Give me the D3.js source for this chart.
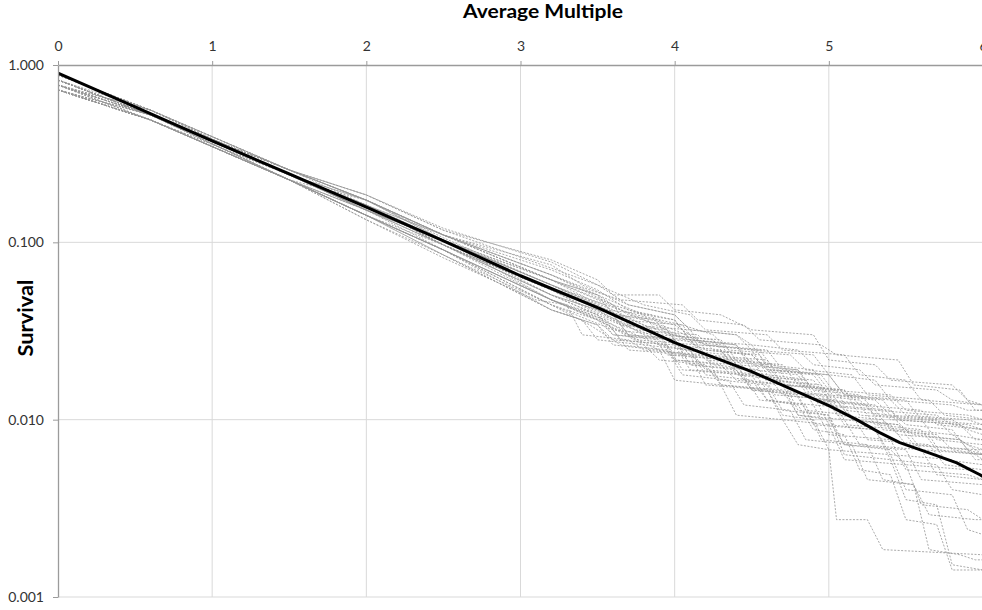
<!DOCTYPE html>
<html>
<head>
<meta charset="utf-8">
<script src="https://cdn.jsdelivr.net/npm/d3@7"></script>
<style>
  html, body { margin: 0; padding: 0; background: #fff; }
  svg { display: block; font-family: Lato, "Open Sans", sans-serif; }
</style>
</head>
<body>
<svg id="chart" width="982" height="610"></svg>
<script>
// Axis ticks
const xTicks = [0, 1, 2, 3, 4, 5, 6];
const yTicks = [1, 0.1, 0.01, 0.001];

// Average survival curve: [average multiple, survival]
const averageCurve = [
  [0, 0.901], [0.5, 0.580], [1, 0.373], [1.5, 0.243], [2, 0.158], [2.5, 0.102],
  [3, 0.0648], [3.5, 0.0428], [4, 0.0272], [4.5, 0.01864], [4.75, 0.01495],
  [5, 0.01199], [5.18, 0.0100], [5.33, 0.00845], [5.46, 0.00743], [5.65, 0.00650],
  [5.83, 0.00570], [5.98, 0.00489], [6, 0.00477]
];

// Individual simulated survival paths: [average multiple, survival]
const run01 = [[0,.823],[0.6,.523],[1.5,.256],[2,.185],[2.5,.117],[3.2,.0796],[3.5,.0614],[3.6,.0505],[3.9,.0505],[4.0,.0416],[4.3,.0390],[4.5,.0321],[4.9,.0301],[5.0,.0217],[5.3,.0204],[5.4,.0167],[5.8,.0157],[5.9,.0129],[6.0,.0121]];
const run02 = [[0,.771],[0.6,.523],[1.5,.240],[2,.173],[2.5,.110],[3.2,.0746],[3.4,.0575],[3.7,.0444],[4.0,.0390],[4.1,.0321],[4.4,.0301],[4.5,.0264],[4.8,.0247],[4.9,.0204],[5.2,.0191],[5.3,.0157],[5.7,.0147],[5.8,.0129],[6.0,.0121]];
const run03 = [[0,.723],[0.6,.490],[1.5,.240],[2,.152],[2.5,.103],[3.2,.0575],[3.5,.0444],[3.8,.0321],[4.0,.0301],[4.2,.0247],[4.5,.0232],[4.6,.0191],[4.9,.0179],[5.0,.0138],[5.3,.0129],[5.4,.0106],[5.8,.0100],[5.9,.00878],[6.0,.00823]];
const run04 = [[0,.823],[0.6,.523],[1.5,.225],[2,.142],[2.5,.0906],[3.2,.0474],[3.6,.0342],[3.9,.0264],[4.1,.0247],[4.2,.0191],[4.6,.0179],[4.7,.0138],[5.0,.0129],[5.1,.00937],[5.5,.00878],[5.6,.00677],[6.0,.00635]];
const run05 = [[0,.771],[0.6,.557],[1.5,.256],[2,.173],[2.5,.110],[3.2,.0655],[3.6,.0444],[3.8,.0390],[3.9,.0301],[4.3,.0282],[4.4,.0217],[4.7,.0204],[4.8,.0157],[5.1,.0147],[5.2,.0121],[5.6,.0113],[5.7,.00937],[6.0,.00878]];
const run06 = [[0,.723],[0.6,.490],[1.5,.225],[2,.142],[2.5,.0849],[3.2,.0416],[3.4,.0365],[3.5,.0282],[3.8,.0264],[3.9,.0217],[4.2,.0204],[4.3,.0157],[4.7,.0147],[4.8,.0106],[5.0,.0100],[5.1,.00723],[5.4,.00677],[5.5,.00557],[5.9,.00522],[6.0,.00489]];
const run07 = [[0,.878],[0.6,.557],[1.5,.240],[2,.162],[2.5,.110],[3.2,.0699],[3.5,.0539],[3.7,.0416],[4.0,.0365],[4.1,.0282],[4.5,.0264],[4.6,.0204],[4.9,.0191],[5.0,.0147],[5.4,.0138],[5.5,.0113],[5.9,.0106],[6.0,.0100]];
const run08 = [[0,.771],[0.6,.523],[1.5,.240],[2,.152],[2.5,.0967],[3.2,.0505],[3.5,.0416],[3.8,.0301],[4.0,.0282],[4.1,.0204],[4.4,.0191],[4.5,.0147],[4.9,.0138],[5.0,.00937],[5.3,.00878],[5.4,.00635],[5.8,.00595],[5.9,.00522],[6.0,.00489]];
const run09 = [[0,.723],[0.6,.490],[1.5,.225],[2,.134],[2.5,.0817],[3.1,.0474],[3.3,.0444],[3.4,.0301],[3.7,.0282],[3.8,.0247],[4.2,.0232],[4.3,.0157],[4.6,.0147],[4.7,.0100],[5.0,.00937],[5.1,.00595],[5.5,.00557],[5.6,.00331],[5.9,.00311],[6.0,.00273]];
const run10 = [[0,.823],[0.6,.523],[1.5,.256],[2,.162],[2.5,.0967],[3.2,.0539],[3.6,.0390],[3.7,.0301],[4.1,.0282],[4.2,.0232],[4.6,.0217],[4.7,.0157],[5.1,.0147],[5.2,.0106],[5.6,.0100],[5.7,.00771],[6.0,.00723]];
const run11 = [[0,.771],[0.6,.523],[1.5,.225],[2,.152],[2.5,.103],[3.2,.0474],[3.5,.0365],[3.9,.0247],[4.1,.0232],[4.3,.0167],[4.6,.0157],[4.7,.0113],[5.0,.0106],[5.1,.00723],[5.5,.00677],[5.6,.00459],[6.0,.00430]];
const run12 = [[0,.878],[0.6,.557],[1.5,.256],[2,.185],[2.5,.120],[3.2,.0774],[3.5,.0575],[3.8,.0444],[4.1,.0390],[4.2,.0321],[4.6,.0301],[4.7,.0247],[5.1,.0232],[5.2,.0179],[5.5,.0167],[5.6,.0129],[6.0,.0121]];
const run13 = [[0,.723],[0.6,.490],[1.5,.225],[2,.142],[2.5,.0906],[3.2,.0474],[3.5,.0365],[3.6,.0301],[4.0,.0282],[4.1,.0232],[4.5,.0217],[4.6,.0167],[4.9,.0157],[5.0,.0121],[5.4,.0113],[5.5,.00937],[5.8,.00878],[5.9,.00677],[6.0,.00635]];
const run14 = [[0,.823],[0.6,.523],[1.5,.240],[2,.162],[2.5,.110],[3.2,.0614],[3.5,.0474],[3.8,.0365],[4.0,.0321],[4.2,.0264],[4.5,.0247],[4.6,.0179],[4.9,.0167],[5.0,.0129],[5.3,.0121],[5.4,.0100],[5.9,.00937],[6.0,.00878]];
const run15 = [[0,.771],[0.6,.523],[1.5,.225],[2,.142],[2.5,.0906],[3.2,.0444],[3.6,.0321],[3.7,.0247],[4.1,.0232],[4.2,.0157],[4.6,.0147],[4.7,.0106],[4.9,.0100],[5.0,.00677],[5.4,.00635],[5.5,.00403],[5.8,.00377],[5.9,.00240],[6.0,.00225]];
const run16 = [[0,.723],[0.6,.523],[1.5,.240],[2,.152],[2.5,.0967],[3.2,.0539],[3.4,.0444],[3.7,.0342],[3.9,.0301],[4.0,.0232],[4.4,.0217],[4.5,.0179],[4.8,.0167],[4.9,.0121],[5.3,.0113],[5.4,.00878],[5.7,.00823],[5.8,.00677],[6.0,.00635]];
const run17 = [[0,.823],[0.6,.523],[1.5,.240],[2,.162],[2.5,.103],[3.2,.0575],[3.6,.0416],[3.8,.0342],[4.0,.0264],[4.3,.0247],[4.4,.0179],[4.7,.0167],[4.8,.0113],[5.0,.0106],[5.1,.00635],[5.4,.00595],[5.5,.00354],[5.7,.00331],[5.8,.00152],[6.0,.00142]];
const run18 = [[0,.771],[0.6,.557],[1.5,.256],[2,.173],[2.5,.110],[3.2,.0655],[3.5,.0505],[3.8,.0390],[4.0,.0365],[4.1,.0282],[4.4,.0264],[4.5,.0204],[4.8,.0191],[4.9,.0138],[5.2,.0129],[5.3,.0106],[5.7,.0100],[5.8,.00823],[6.0,.00771]];
const run19 = [[0,.723],[0.6,.490],[1.5,.225],[2,.142],[2.5,.0967],[3.2,.0474],[3.5,.0390],[3.6,.0321],[3.9,.0301],[4.0,.0217],[4.4,.0204],[4.5,.0147],[4.8,.0138],[4.9,.00937],[5.3,.00878],[5.4,.00595],[5.7,.00557],[5.8,.00403],[6.0,.00377]];
const run20 = [[0,.878],[0.6,.557],[1.5,.256],[2,.173],[2.5,.103],[3.2,.0614],[3.6,.0444],[3.7,.0342],[4.1,.0321],[4.2,.0247],[4.5,.0232],[4.6,.0191],[5.0,.0179],[5.1,.0138],[5.5,.0129],[5.6,.0100],[6.0,.00937]];
const run21 = [[0,.771],[0.6,.490],[1.5,.225],[2,.142],[2.5,.0906],[3.2,.0444],[3.5,.0365],[3.8,.0264],[4.1,.0247],[4.2,.0179],[4.5,.0167],[4.6,.0129],[4.8,.0121],[4.9,.00878],[5.1,.00823],[5.2,.00522],[5.4,.00489],[5.5,.00273],[5.7,.00256],[5.8,.00142],[6.0,.00142]];
const run22 = [[0,.823],[0.6,.523],[1.5,.240],[2,.152],[2.5,.103],[3.2,.0505],[3.5,.0416],[3.8,.0365],[4.1,.0282],[4.4,.0264],[4.5,.0191],[4.8,.0179],[4.9,.0129],[5.2,.0121],[5.3,.00937],[5.6,.00878],[5.7,.00677],[6.0,.00635]];
const run23 = [[0,.723],[0.6,.490],[1.5,.240],[2,.162],[2.5,.0967],[3.2,.0505],[3.5,.0390],[3.6,.0301],[3.9,.0282],[4.0,.0217],[4.3,.0204],[4.4,.0167],[4.7,.0157],[4.8,.0106],[5.1,.0100],[5.2,.00723],[5.6,.00677],[5.7,.00489],[6.0,.00459]];
const run24 = [[0,.823],[0.6,.523],[1.5,.256],[2,.173],[2.5,.110],[3.2,.0614],[3.5,.0505],[3.7,.0390],[4.0,.0342],[4.2,.0264],[4.6,.0247],[4.7,.0191],[5.0,.0179],[5.1,.0138],[5.4,.0129],[5.5,.0106],[5.9,.0100],[6.0,.00937]];
const run25 = [[0,.771],[0.6,.523],[1.5,.225],[2,.142],[2.5,.0906],[3.2,.0416],[3.5,.0342],[3.6,.0282],[4.0,.0264],[4.1,.0191],[4.5,.0179],[4.6,.0129],[4.9,.0121],[5.0,.00823],[5.4,.00771],[5.5,.00522],[5.9,.00489],[6.0,.00459]];
const run26 = [[0,.878],[0.6,.557],[1.5,.240],[2,.152],[2.5,.103],[3.2,.0539],[3.6,.0390],[3.7,.0301],[4.0,.0282],[4.1,.0204],[4.5,.0191],[4.6,.0147],[5.0,.0138],[5.1,.0100],[5.4,.00937],[5.5,.00723],[5.9,.00677],[6.0,.00595]];
const run27 = [[0,.723],[0.6,.490],[1.5,.225],[2,.173],[2.5,.106],[3.2,.0575],[3.4,.0474],[3.8,.0342],[4.1,.0282],[4.2,.0217],[4.6,.0204],[4.7,.0157],[5.0,.0147],[5.1,.0113],[5.4,.0106],[5.5,.00878],[5.8,.00823],[5.9,.00723],[6.0,.00677]];
const run28 = [[0,.771],[0.6,.523],[1.5,.240],[2,.162],[2.5,.103],[3.2,.0614],[3.5,.0505],[3.6,.0390],[3.9,.0365],[4.0,.0282],[4.3,.0264],[4.4,.0204],[4.8,.0191],[4.9,.0147],[5.2,.0138],[5.3,.0113],[5.7,.0106],[5.8,.00937],[6.0,.00878]];
const run29 = [[0,.723],[0.6,.490],[1.5,.225],[2,.134],[2.5,.0849],[3.2,.0416],[3.5,.0342],[3.6,.0264],[3.9,.0247],[4.0,.0167],[4.3,.0157],[4.4,.0106],[4.7,.0100],[4.8,.00723],[5.0,.00677],[5.05,.00273],[5.25,.00273],[5.35,.00185],[6.0,.00173]];
const run30 = [[0,.823],[0.6,.523],[1.5,.256],[2,.185],[2.5,.117],[3.2,.0716],[3.5,.0575],[3.7,.0444],[4.0,.0390],[4.1,.0321],[4.4,.0301],[4.5,.0247],[4.9,.0232],[5.0,.0179],[5.3,.0167],[5.4,.0129],[5.8,.0121],[5.9,.0113],[6.0,.0113]];
const run31 = [[0,.823],[0.6,.523],[1.5,.240],[2,.162],[2.5,.0967],[3.2,.0539],[3.45,.0444],[3.65,.0342],[3.95,.0321],[4.05,.0247],[4.35,.0232],[4.45,.0179],[4.85,.0167],[4.95,.0129],[5.25,.0121],[5.35,.00878],[5.65,.00823],[5.75,.00595],[6.0,.00557]];
const run32 = [[0,.771],[0.6,.490],[1.5,.225],[2,.152],[2.5,.0906],[3.2,.0474],[3.55,.0365],[3.75,.0282],[4.15,.0264],[4.25,.0204],[4.55,.0191],[4.65,.0138],[5.05,.0129],[5.15,.0100],[5.45,.00937],[5.55,.00723],[5.95,.00677],[6.0,.00635]];
const run33 = [[0,.723],[0.6,.523],[1.5,.240],[2,.173],[2.5,.103],[3.2,.0575],[3.35,.0505],[3.55,.0416],[3.85,.0390],[3.95,.0301],[4.25,.0282],[4.35,.0217],[4.65,.0204],[4.75,.0157],[5.05,.0147],[5.15,.0100],[5.45,.00937],[5.55,.00823],[5.85,.00771],[5.95,.00595],[6.0,.00595]];
const run34 = [[0,.823],[0.6,.557],[1.5,.256],[2,.173],[2.5,.110],[3.2,.0655],[3.45,.0539],[3.65,.0474],[4.05,.0444],[4.15,.0365],[4.45,.0342],[4.55,.0282],[4.95,.0264],[5.05,.0232],[5.45,.0217],[5.55,.0157],[5.85,.0147],[5.95,.0113],[6.0,.0113]];
const run35 = [[0,.771],[0.6,.490],[1.5,.225],[2,.142],[2.5,.0849],[3.2,.0444],[3.45,.0342],[3.65,.0264],[3.95,.0247],[4.05,.0179],[4.35,.0167],[4.45,.0121],[4.75,.0113],[4.85,.00771],[5.15,.00723],[5.25,.00459],[5.55,.00430],[5.65,.00291],[5.95,.00273],[6.0,.00273]];
const run36 = [[0,.878],[0.6,.557],[1.5,.240],[2,.162],[2.5,.103],[3.2,.0575],[3.55,.0444],[3.65,.0365],[4.05,.0342],[4.15,.0264],[4.55,.0247],[4.65,.0191],[4.95,.0179],[5.05,.0138],[5.35,.0129],[5.45,.0100],[5.85,.00937],[5.95,.00771],[6.0,.00771]];
const run37 = [[0,.723],[0.6,.490],[1.5,.225],[2,.152],[2.5,.0967],[3.2,.0505],[3.35,.0444],[3.65,.0342],[3.85,.0301],[3.95,.0232],[4.35,.0217],[4.45,.0167],[4.75,.0157],[4.85,.0113],[5.15,.0106],[5.25,.00771],[5.65,.00723],[5.75,.00557],[6.0,.00522]];
const run38 = [[0,.823],[0.6,.523],[1.5,.256],[2,.173],[2.5,.110],[3.2,.0614],[3.45,.0474],[3.75,.0390],[4.05,.0342],[4.25,.0301],[4.35,.0247],[4.75,.0232],[4.85,.0191],[5.15,.0179],[5.25,.0138],[5.65,.0129],[5.75,.0106],[6.0,.0100]];
const run39 = [[0,.771],[0.6,.523],[1.5,.225],[2,.142],[2.5,.0906],[3.2,.0474],[3.55,.0365],[3.65,.0282],[3.95,.0264],[4.05,.0191],[4.45,.0179],[4.55,.0129],[4.85,.0121],[4.95,.00771],[5.25,.00723],[5.35,.00459],[5.55,.00430],[5.65,.00185],[5.85,.00173],[5.95,.00162],[6.0,.00162]];
const run40 = [[0,.723],[0.6,.523],[1.5,.240],[2,.162],[2.5,.0967],[3.2,.0539],[3.45,.0416],[3.75,.0321],[4.15,.0301],[4.25,.0247],[4.55,.0232],[4.65,.0167],[4.95,.0157],[5.05,.0106],[5.35,.0100],[5.45,.00823],[5.85,.00771],[5.95,.00677],[6.0,.00677]];

const runs = [run01, run02, run03, run04, run05, run06, run07, run08, run09, run10,
              run11, run12, run13, run14, run15, run16, run17, run18, run19, run20,
              run21, run22, run23, run24, run25, run26, run27, run28, run29, run30,
              run31, run32, run33, run34, run35, run36, run37, run38, run39, run40];

const svg = d3.select("#chart");
const plotLeft = 58, plotTop = 65, plotRight = 983, plotBottom = 597;

const x = d3.scaleLinear().domain([0, 6]).range([plotLeft, plotRight]);
const y = d3.scaleLog().domain([0.001, 1]).range([plotBottom, plotTop]);

const gridColor = "#d9d9d9";
const axisColor = "#9b9b9b";
const textColor = "#333333";
const fontStack = "Lato, 'Open Sans', sans-serif";

// Vertical gridlines
svg.append("g")
  .selectAll("line")
  .data(xTicks.filter(d => d > 0))
  .join("line")
  .attr("x1", d => x(d)).attr("x2", d => x(d))
  .attr("y1", plotTop).attr("y2", plotBottom)
  .attr("stroke", gridColor).attr("stroke-width", 1);

// Horizontal gridlines
svg.append("g")
  .selectAll("line")
  .data(yTicks.filter(d => d < 1))
  .join("line")
  .attr("x1", plotLeft).attr("x2", plotRight)
  .attr("y1", d => y(d)).attr("y2", d => y(d))
  .attr("stroke", gridColor).attr("stroke-width", 1);

// Plot clip
svg.append("clipPath").attr("id", "plotClip")
  .append("rect").attr("x", plotLeft).attr("y", plotTop - 2)
  .attr("width", plotRight - plotLeft).attr("height", plotBottom - plotTop + 4);

const line = d3.line()
  .x(d => x(d[0]))
  .y(d => y(d[1]));

// Simulated paths
svg.append("g").attr("clip-path", "url(#plotClip)")
  .selectAll("path")
  .data(runs)
  .join("path")
  .attr("d", line)
  .attr("fill", "none")
  .attr("stroke", "#959595")
  .attr("stroke-width", 1)
  .attr("stroke-dasharray", "2,1.5")
  .attr("opacity", 0.8);

// Average curve
svg.append("path")
  .datum(averageCurve)
  .attr("clip-path", "url(#plotClip)")
  .attr("d", line)
  .attr("fill", "none")
  .attr("stroke", "#000")
  .attr("stroke-width", 3)
  .attr("stroke-linejoin", "round");

// Top x axis
const xAxis = d3.axisTop(x)
  .tickValues(xTicks)
  .tickFormat(d3.format("d"))
  .tickSizeInner(4).tickSizeOuter(0).tickPadding(10);
const gx = svg.append("g").attr("transform", `translate(0,${plotTop})`).call(xAxis);
gx.select(".domain").attr("stroke", axisColor).attr("stroke-width", 1.3);
gx.selectAll(".tick line").attr("stroke", axisColor);
gx.selectAll(".tick text")
  .attr("fill", textColor)
  .style("font-size", "14px")
  .style("font-family", fontStack);

// Left y axis
const yAxis = d3.axisLeft(y)
  .tickValues(yTicks)
  .tickFormat(d3.format(".3f"))
  .tickSizeInner(5).tickSizeOuter(0).tickPadding(9);
const gy = svg.append("g").attr("transform", `translate(${plotLeft},0)`).call(yAxis);
gy.select(".domain").attr("stroke", axisColor).attr("stroke-width", 1.3);
gy.selectAll(".tick line").attr("stroke", axisColor);
gy.selectAll(".tick text")
  .attr("fill", textColor)
  .style("font-size", "14px")
  .style("font-family", fontStack);

// Axis titles
svg.append("text")
  .attr("x", 543).attr("y", 18)
  .attr("text-anchor", "middle")
  .attr("fill", "#000")
  .attr("textLength", 160)
  .attr("lengthAdjust", "spacingAndGlyphs")
  .style("font-size", "19px")
  .style("font-weight", "bold")
  .text("Average Multiple");

svg.append("text")
  .attr("transform", "translate(33,318) rotate(-90)")
  .attr("text-anchor", "middle")
  .attr("fill", "#000")
  .attr("textLength", 77)
  .attr("lengthAdjust", "spacingAndGlyphs")
  .style("font-size", "20px")
  .style("font-weight", "bold")
  .text("Survival");
</script>
</body>
</html>
